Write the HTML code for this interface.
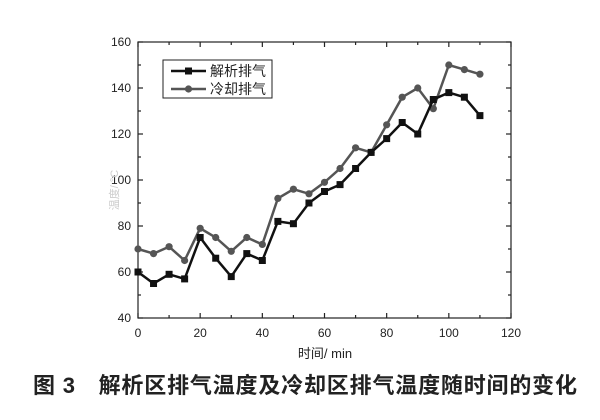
<!DOCTYPE html><html><head><meta charset="utf-8"><style>body{margin:0;background:#fff}svg{display:block}text{font-family:"Liberation Sans","Noto Sans CJK SC",sans-serif}</style></head><body>
<svg width="600" height="420" xmlns="http://www.w3.org/2000/svg">
<rect width="600" height="420" fill="#fff"/>
<rect x="138" y="42" width="373" height="276" fill="none" stroke="#222" stroke-width="1.2"/>
<g stroke="#222" stroke-width="1.2" id="ticks"></g>
<g id="lbl" font-size="12" fill="#222"></g>
<g id="series"></g>
<text x="325" y="358" font-size="13" text-anchor="middle" fill="#222">时间/ min</text>
<text transform="translate(118,190) rotate(-90)" font-size="11" text-anchor="middle" fill="#ccc">温度/ °C</text>
<rect x="163" y="60" width="109" height="38" fill="#fff" stroke="#222" stroke-width="1"/>
<line x1="171" y1="71" x2="206" y2="71" stroke="#111" stroke-width="2.5"/><rect x="185" y="67.5" width="7" height="7" fill="#111"/>
<text x="210" y="76" font-size="14" font-family="Noto Serif CJK SC,serif" fill="#222">解析排气</text>
<line x1="171" y1="89" x2="206" y2="89" stroke="#555" stroke-width="2.5"/><circle cx="188.5" cy="89" r="3.6" fill="#555"/>
<text x="210" y="94" font-size="14" font-family="Noto Serif CJK SC,serif" fill="#222">冷却排气</text>
<text x="33" y="393" font-size="22" font-weight="bold" fill="#222" textLength="544" lengthAdjust="spacing">图 3　解析区排气温度及冷却区排气温度随时间的变化</text>
<script>
var X=t=>138+t*373/120,Y=v=>318-(v-40)*2.3,ns="http://www.w3.org/2000/svg";
function el(p,n,a){var e=document.createElementNS(ns,n);for(var k in a)e.setAttribute(k,a[k]);document.getElementById(p).appendChild(e);return e}
for(var t=0;t<=120;t+=10){var L=t%20?3:5;el("ticks","line",{x1:X(t),x2:X(t),y1:318,y2:318-L});el("ticks","line",{x1:X(t),x2:X(t),y1:42,y2:42+L});if(t%20==0){var e=el("lbl","text",{x:X(t),y:337,"text-anchor":"middle"});e.textContent=t}}
for(var v=40;v<=160;v+=10){var L=v%20?3:5;el("ticks","line",{x1:138,x2:138+L,y1:Y(v),y2:Y(v)});el("ticks","line",{x1:511,x2:511-L,y1:Y(v),y2:Y(v)});if(v%20==0){var e=el("lbl","text",{x:131,y:Y(v)+4,"text-anchor":"end"});e.textContent=v}}
var a=[60,55,59,57,75,66,58,68,65,82,81,90,95,98,105,112,118,125,120,135,138,136,128],b=[70,68,71,65,79,75,69,75,72,92,96,94,99,105,114,112,124,136,140,131,150,148,146];
el("series","polyline",{points:b.map((v,i)=>X(i*5)+","+Y(v)).join(" "),fill:"none",stroke:"#555","stroke-width":2.5});
b.forEach((v,i)=>el("series","circle",{cx:X(i*5),cy:Y(v),r:3.6,fill:"#555"}));
el("series","polyline",{points:a.map((v,i)=>X(i*5)+","+Y(v)).join(" "),fill:"none",stroke:"#111","stroke-width":2.5});
a.forEach((v,i)=>el("series","rect",{x:X(i*5)-3.5,y:Y(v)-3.5,width:7,height:7,fill:"#111"}));
</script>
</svg></body></html>
